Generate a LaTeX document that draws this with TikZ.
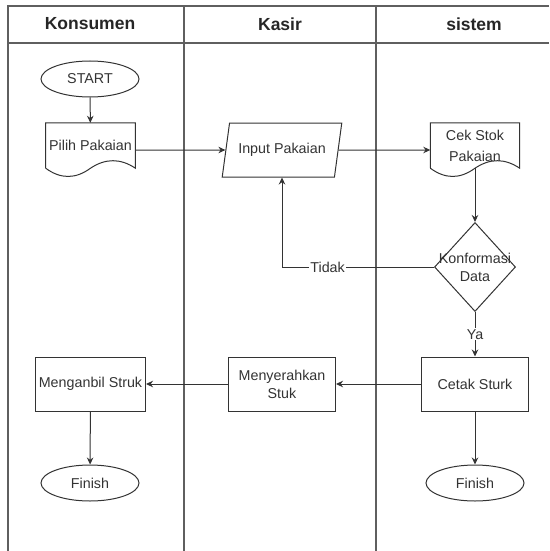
\documentclass[tikz,border=0pt]{standalone}
\usepackage{fontspec}
\setmainfont{Liberation Sans}
\usetikzlibrary{shapes.geometric,arrows.meta}

\definecolor{ink}{RGB}{51,51,51}
\definecolor{lanegray}{RGB}{95,95,95}

\newcommand\docwave[1]{%
  \draw[shp] (#1.south west) -- (#1.north west) -- (#1.north east) -- (#1.south east)
    .. controls +(-15,-10) and +(15,-10) .. (#1.south)
    .. controls +(-15,11) and +(15,11) .. (#1.south west);}

\begin{document}
\begin{tikzpicture}[x=1pt,y=-1pt,
   every node/.style={font=\fontsize{14.3}{18}\selectfont, text=ink},
   shp/.style={draw=ink, line width=1pt},
   lanes/.style={draw=lanegray, line width=1.3pt},
   head/.style={font=\bfseries\fontsize{17.5}{21}\selectfont, text=black!85},
   term/.style={shp, ellipse, minimum width=98, minimum height=36, inner sep=0pt},
   proc/.style={shp, rectangle, minimum width=107, minimum height=54, align=center},
   docbox/.style={rectangle, minimum width=89, minimum height=45, align=center},
   iobox/.style={shp, trapezium, trapezium left angle=73, trapezium right angle=107,
      trapezium stretches=true, minimum width=120, minimum height=54, inner xsep=0pt},
   decide/.style={shp, diamond, minimum width=81, minimum height=89, inner sep=0pt},
   arr/.style={draw=ink, line width=1pt, -{Stealth[length=7pt,width=6.5pt]}},
   lbl/.style={fill=white, inner sep=1pt}]
   \useasboundingbox (0,0) rectangle (549,551);

   \draw[lanes] (8,551) -- (8,6) -- (549,6);
   \draw[lanes] (8,43) -- (549,43);
   \draw[lanes] (184,6) -- (184,551);
   \draw[lanes] (376,6) -- (376,551);
   \path (90,24) node[head] (HKons) {Konsumen};
   \path (280,24) node[head] (HKasir) {Kasir};
   \path (474,24) node[head] (HSis) {sistem};

   \path (90,79) node[term] (Start) {START};
   \path (90.5,145.5) node[docbox] (Pilih) {Pilih Pakaian};
   \docwave{Pilih}
   \path (282,150) node[iobox] (Input) {Input Pakaian};
   \path (475,145.5) node[docbox] (Cek) {Cek Stok\\[3pt]Pakaian};
   \docwave{Cek}
   \path (475,267) node[decide] (Konf) {};
   \path (Konf) node[align=center] (KonfT) {Konformasi\\Data};
   \path (475,384) node[proc] (Cetak) {Cetak Sturk};
   \path (282,384) node[proc] (Serah) {Menyerahkan\\Stuk};
   \path (90.5,384) node[proc] (Ambil) {Menganbil Struk};
   \path (90,483) node[term] (FinA) {Finish};
   \path (475,483) node[term] (FinB) {Finish};

   \draw[arr] (Start) -- (Pilih);
   \draw[arr] (Pilih.east |- Input) -- (Input);
   \draw[arr] (Input) -- (Cek.west |- Input);
   \draw[arr] (Cek.south) -- (Konf);
   \draw[arr] (Konf) -| node[lbl, pos=0.35] {Tidak} (Input);
   \draw[arr] (Konf) -- node[lbl] {Ya} (Cetak);
   \draw[arr] (Cetak) -- (Serah);
   \draw[arr] (Serah) -- (Ambil);
   \draw[arr] (Ambil) -- (FinA);
   \draw[arr] (Cetak) -- (FinB);
\end{tikzpicture}
\end{document}
